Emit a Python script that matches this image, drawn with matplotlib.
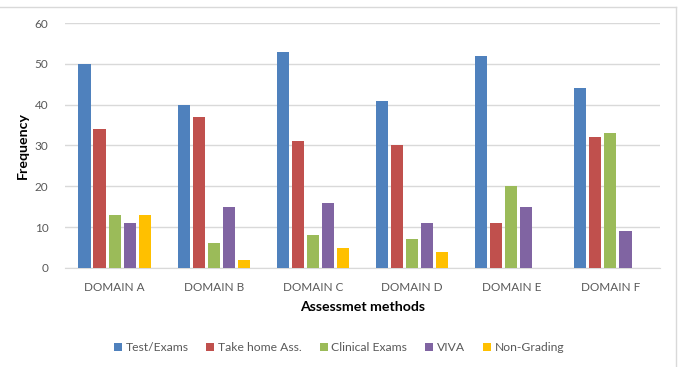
import matplotlib
matplotlib.use("Agg")
import matplotlib.pyplot as plt
import numpy as np
from matplotlib.lines import Line2D

categories = ["DOMAIN A", "DOMAIN B", "DOMAIN C", "DOMAIN D", "DOMAIN E", "DOMAIN F"]
series_names = ["Test/Exams", "Take home Ass.", "Clinical Exams", "VIVA", "Non-Grading"]
test_exams = [50, 40, 53, 41, 52, 44]
take_home = [34, 37, 31, 30, 11, 32]
clinical = [13, 6, 8, 7, 20, 33]
viva = [11, 15, 16, 11, 15, 9]
non_grading = [13, 2, 5, 4, 0, 0]
colors = ["#4F81BD", "#C0504D", "#9BBB59", "#8064A2", "#FFC000"]

plt.rcParams['font.family'] = ['Lato', 'DejaVu Sans']

fig = plt.figure(figsize=(6.78, 3.67), dpi=100)
ax = fig.add_axes([0.0959, 0.2698, 0.8776, 0.6675])

x = np.arange(len(categories))
data = [test_exams, take_home, clinical, viva, non_grading]
step = 0.152
w = 0.122
for i, (vals, name, c) in enumerate(zip(data, series_names, colors)):
    ax.bar(x + (i - 2) * step, vals, width=w, color=c, label=name, zorder=3)

ax.set_xlim(-0.5, len(categories) - 0.5)
ax.set_ylim(0, 60)
ax.set_yticks(range(0, 61, 10))
ax.grid(axis='y', color='#D9D9D9', linewidth=1, zorder=0)
ax.set_xticks(x)
ax.set_xticklabels(categories)
ax.tick_params(axis='both', length=0, labelsize=8.5, colors='#595959')
ax.tick_params(axis='x', pad=10)
ax.tick_params(axis='y', pad=12)
for s in ['top', 'right', 'left']:
    ax.spines[s].set_visible(False)
ax.spines['bottom'].set_color('#D9D9D9')

ax.set_xlabel("Assessmet methods", fontsize=10.2, fontweight='bold', labelpad=5.5)
ax.set_ylabel("Frequency", fontsize=10.2, fontweight='bold', labelpad=4)

leg = fig.legend(loc='center', bbox_to_anchor=(0.5, 0.052), ncol=5, frameon=False,
                 fontsize=8.7, handlelength=0.65, handleheight=0.65, handletextpad=0.3,
                 columnspacing=1.5)
for t in leg.get_texts():
    t.set_color('#595959')

top_y = 1 - 7 / 367
right_x = 676 / 678
fig.add_artist(Line2D([0, right_x], [top_y, top_y], transform=fig.transFigure,
                      color='#D9D9D9', linewidth=1))
fig.add_artist(Line2D([right_x, right_x], [0, top_y], transform=fig.transFigure,
                      color='#D9D9D9', linewidth=1))

fig.savefig("out.png", dpi=100)
